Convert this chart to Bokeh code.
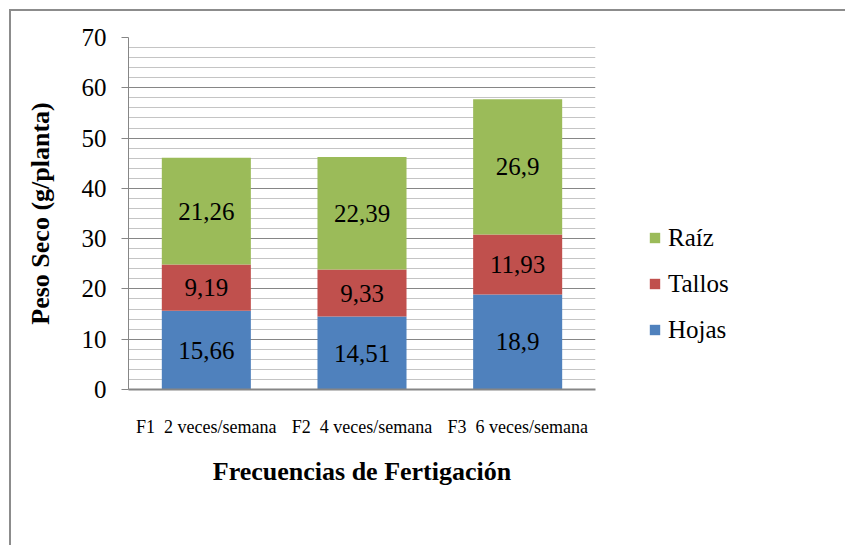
from bokeh.plotting import figure
from bokeh.models import (ColumnDataSource, FactorRange, Legend, LegendItem,
                          FixedTicker, Range1d, LabelSet)
from bokeh.core.properties import value
from bokeh.embed import file_html
from bokeh.resources import INLINE

# ---- data ----
categories = ["F1\u00a0 2 veces/semana", "F2\u00a0 4 veces/semana", "F3\u00a0 6 veces/semana"]
hojas = [15.66, 14.51, 18.9]
tallos = [9.19, 9.33, 11.93]
raiz = [21.26, 22.39, 26.9]
series_names = ["Hojas", "Tallos", "Raíz"]
series_colors = ["#4F81BD", "#C0504D", "#9BBB59"]
y_major_ticks = [0, 10, 20, 30, 40, 50, 60, 70]
y_minor_ticks = [v for v in range(0, 71, 2) if v % 10 != 0]

FONT = "Liberation Serif"

src = ColumnDataSource(dict(cat=categories, Hojas=hojas, Tallos=tallos, Raiz=raiz))

p = figure(x_range=FactorRange(*categories, range_padding=0),
           y_range=Range1d(0, 70),
           frame_width=467, frame_height=352,
           output_backend="svg", toolbar_location=None,
           min_border_left=117, min_border_top=26, min_border_right=0,
           min_border_bottom=156)
p.styles = {"border-top": "2px solid #8c8c8c", "border-left": "2px solid #8c8c8c",
            "margin-left": "9px", "margin-top": "9px"}
p.outline_line_color = None
p.background_fill_color = "white"
p.border_fill_color = "white"

renderers = p.vbar_stack(["Hojas", "Tallos", "Raiz"], x="cat", width=0.572,
                         color=series_colors, line_color=None, source=src)

# value labels in the middle of each segment
xs, ys, txt = [], [], []
bottoms = [0.0] * len(categories)
for vals in (hojas, tallos, raiz):
    for i, v in enumerate(vals):
        xs.append(categories[i])
        ys.append(bottoms[i] + v / 2)
        txt.append(str(v).replace(".", ","))
        bottoms[i] += v
lab_src = ColumnDataSource(dict(x=xs, y=ys, t=txt))
p.add_layout(LabelSet(x="x", y="y", text="t", source=lab_src, text_align="center",
                      text_baseline="middle", text_font=value(FONT),
                      text_font_size="25px", text_color="black"))

# grid
p.ygrid.ticker = FixedTicker(ticks=y_major_ticks, minor_ticks=y_minor_ticks)
p.ygrid.grid_line_color = "#868686"
p.ygrid.grid_line_width = 1
p.ygrid.minor_grid_line_color = "#c4c4c4"
p.ygrid.minor_grid_line_width = 1
p.xgrid.grid_line_color = None

# y axis
yax = p.yaxis[0]
yax.ticker = FixedTicker(ticks=y_major_ticks)
yax.axis_line_color = "#868686"
yax.major_tick_line_color = "#868686"
yax.major_tick_out = 7
yax.major_tick_in = 0
yax.minor_tick_line_color = None
yax.major_label_text_font = FONT
yax.major_label_text_font_size = "25px"
yax.major_label_text_color = "black"
yax.major_label_standoff = 15
yax.axis_label = "Peso Seco (g/planta)"
yax.axis_label_text_font = FONT
yax.axis_label_text_font_style = "bold"
yax.axis_label_text_font_size = "26px"
yax.axis_label_text_color = "black"
yax.axis_label_standoff = 24

# x axis
xax = p.xaxis[0]
xax.axis_line_color = "#868686"
xax.axis_line_width = 2
xax.major_tick_line_color = None
xax.minor_tick_line_color = None
xax.major_label_text_font = FONT
xax.major_label_text_font_size = "18px"
xax.major_label_text_color = "black"
xax.major_label_standoff = 21
xax.axis_label = "Frecuencias de Fertigación"
xax.axis_label_text_font = FONT
xax.axis_label_text_font_style = "bold"
xax.axis_label_text_font_size = "26px"
xax.axis_label_text_color = "black"
xax.axis_label_standoff = 17

# legend (Raíz on top)
items = [LegendItem(label=series_names[i], renderers=[renderers[i]]) for i in (2, 1, 0)]
legend = Legend(items=items, location=(53, 45), orientation="vertical",
                glyph_width=13, glyph_height=13, label_height=29, spacing=17,
                label_standoff=7, padding=0, margin=0,
                label_text_font=FONT, label_text_font_size="25px",
                label_text_color="black", border_line_color=None,
                background_fill_alpha=0)
p.add_layout(legend, "right")

open("out.html", "w").write(file_html(p, INLINE))
